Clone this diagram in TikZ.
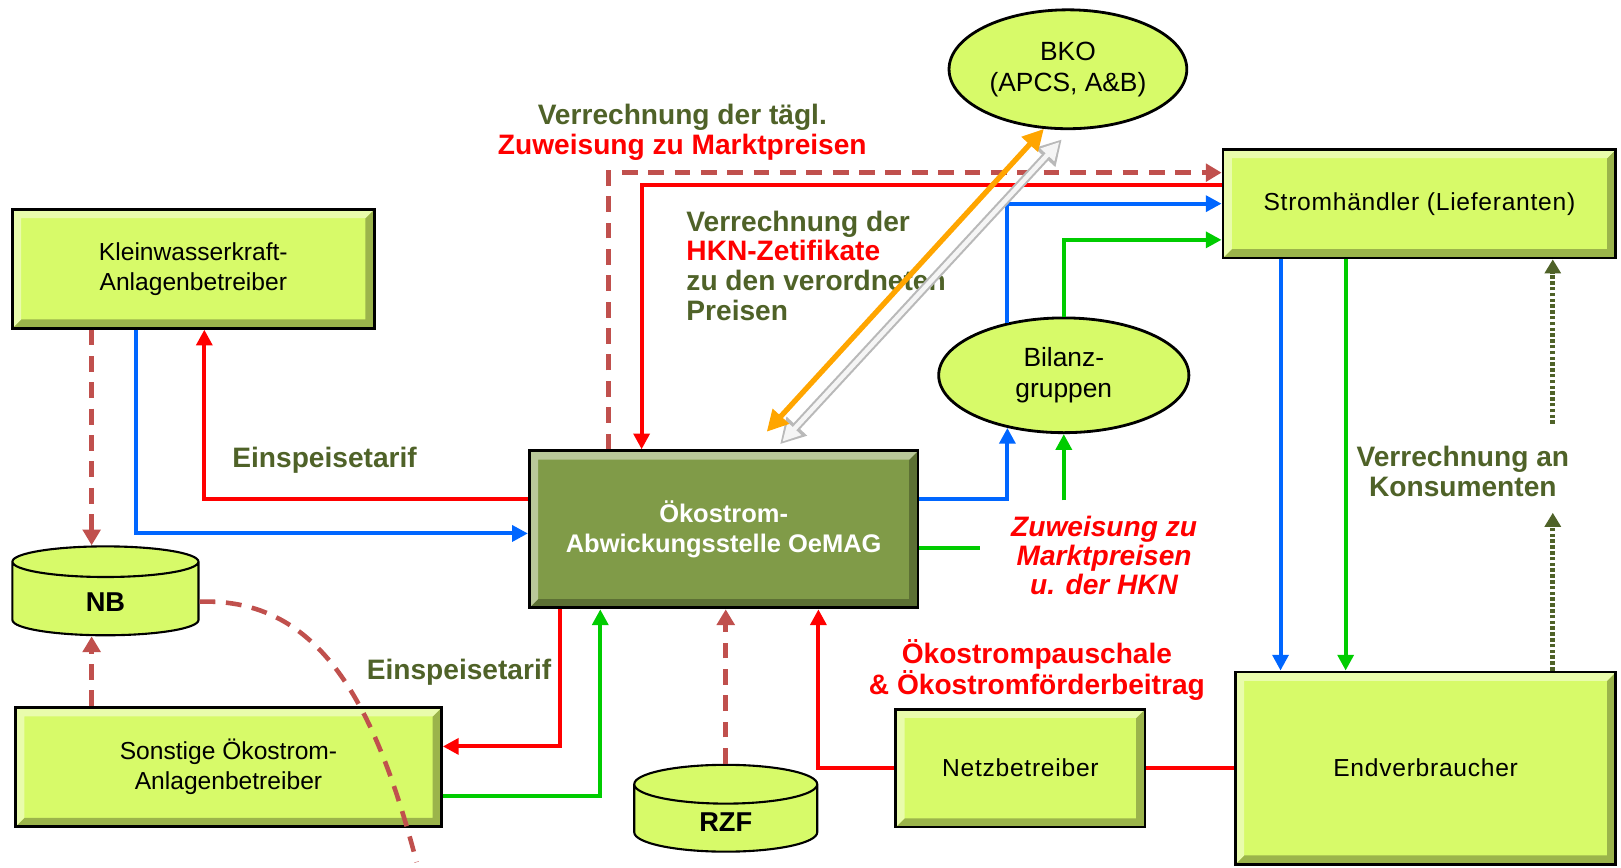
\documentclass[tikz,border=0pt]{standalone}
\usepackage{fontspec}
\setmainfont{Liberation Sans}
\definecolor{boxgreen}{RGB}{215,250,105}
\definecolor{oegreen}{RGB}{128,155,72}
\definecolor{lblgreen}{RGB}{79,98,40}
\definecolor{flowred}{RGB}{255,0,0}
\definecolor{flowblue}{RGB}{0,102,255}
\definecolor{flowgreen}{RGB}{0,204,0}
\definecolor{dashbrown}{RGB}{192,80,77}
\definecolor{floworange}{RGB}{255,165,0}
\usetikzlibrary{arrows.meta,positioning,shapes.geometric,calc}
\newcommand{\pxu}{0.020676cm}

\begin{document}
\begin{tikzpicture}[x=\pxu, y=-\pxu,
    bevel/.style={path picture={
      \fill[#1!72!black] (path picture bounding box.south west) -- (path picture bounding box.south east)
        -- (path picture bounding box.north east) -- ([shift={(-5pt,-5pt)}]path picture bounding box.north east)
        -- ([shift={(-5pt,5pt)}]path picture bounding box.south east) -- ([shift={(5pt,5pt)}]path picture bounding box.south west) -- cycle;
      \fill[#1!55!white] (path picture bounding box.south west) -- (path picture bounding box.north west)
        -- (path picture bounding box.north east) -- ([shift={(-5pt,-5pt)}]path picture bounding box.north east)
        -- ([shift={(5pt,-5pt)}]path picture bounding box.north west) -- ([shift={(5pt,5pt)}]path picture bounding box.south west) -- cycle;}},
    box/.style={rectangle, draw=black, line width=1.6pt, fill=boxgreen, bevel=boxgreen, align=center,
                font=\fontsize{14}{17}\selectfont},
    widebox/.style={box, font=\fontsize{14}{17}\selectfont\addfontfeature{LetterSpace=3}},
    oebox/.style={box, fill=oegreen, bevel=oegreen, text=white, font=\fontsize{14.5}{17.5}\selectfont\bfseries},
    oval/.style={ellipse, draw=black, line width=1.6pt, fill=boxgreen, align=center, inner sep=0pt,
                 font=\fontsize{15}{17.5}\selectfont},
    drum/.style={cylinder, shape border rotate=90, aspect=0.6, draw=black, line width=1.2pt, fill=boxgreen,
                 font=\fontsize{15.5}{18}\selectfont\bfseries},
    lbl/.style={font=\fontsize{16}{16.8}\selectfont\bfseries, text=lblgreen, align=center},
    redlbl/.style={lbl, text=flowred},
    flow/.style={line width=2.3pt, -{Triangle[length=9pt,width=9pt]}},
    redarr/.style={flow, flowred},
    bluearr/.style={flow, flowblue},
    greenarr/.style={flow, flowgreen},
    dashflow/.style={dashbrown, line width=2.6pt, dash pattern=on 9pt off 6pt, -{Triangle[length=9pt,width=10pt]}},
    dotflow/.style={lblgreen, line width=3pt, dash pattern=on 2pt off 1.3pt, -{Triangle[length=8pt,width=9pt]}}
  ]
  \useasboundingbox (0,0) rectangle (1568,839);

  % Teilnehmer
  \node[box, minimum width=350*\pxu, minimum height=115*\pxu] (klein) at (187,260)
    {Kleinwasserkraft-\\Anlagenbetreiber};
  \node[drum, minimum width=180*\pxu, minimum height=86*\pxu] (nb) at (102,582) {NB};
  \node[box, minimum width=412*\pxu, minimum height=115*\pxu] (sonst) at (221,742)
    {Sonstige Ökostrom-\\Anlagenbetreiber};
  \node[drum, minimum width=177*\pxu, minimum height=84*\pxu] (rzf) at (702,795) {RZF};
  \node[oebox, minimum width=376*\pxu, minimum height=152*\pxu] (oemag) at (700,512)
    {Ökostrom-\\Abwickungsstelle OeMAG};
  \node[widebox, minimum width=241*\pxu, minimum height=114*\pxu] (netz) at (987,743) {Netzbetreiber};
  \node[widebox, minimum width=368*\pxu, minimum height=186*\pxu] (endv) at (1379,743) {Endverbraucher};
  \node[widebox, minimum width=380*\pxu, minimum height=105*\pxu] (strom) at (1373,197)
    {Stromhändler (Lieferanten)};
  \node[oval, minimum width=230*\pxu, minimum height=115*\pxu] (bko) at (1033,67) {BKO\\(APCS, A\&B)};
  \node[oval, minimum width=242*\pxu, minimum height=111*\pxu] (bilanz) at (1029,363) {Bilanz-\\gruppen};

  % Beschriftungen
  \node[lbl] (taegl) at (660,128) {Verrechnung der tägl.\\\textcolor{flowred}{Zuweisung zu Marktpreisen}};
  \node[lbl, align=left, anchor=west] (hkn) at (658,257)
    {Verrechnung der\\\textcolor{flowred}{HKN-Zetifikate}\\zu den verordneten\\Preisen};
  \node[lbl] (tarifa) at (314,445) {Einspeisetarif};
  \node[lbl] (tarifb) at (444,650) {Einspeisetarif};
  \node[redlbl, font=\fontsize{16}{16.5}\selectfont\bfseries\itshape] (zuw) at (1068,537)
    {Zuweisung zu\\Marktpreisen\\u. der HKN};
  \node[redlbl] (pausch) at (1003,648) {Ökostrompauschale\\\& Ökostromförderbeitrag};
  \node[lbl] (konsum) at (1415,456) {Verrechnung an\\Konsumenten};

  % freie Enden
  \coordinate (gfree) at (948,530);
  \coordinate (gstart) at (1029,484);
  \coordinate (dlow) at (1502,496);
  \coordinate (dhigh) at (1502,410);
  \coordinate (arcend) at (403,834);
  \coordinate (sb) at ([xshift=57*\pxu]strom.south west);
  \coordinate (sg) at ([xshift=120*\pxu]strom.south west);
  \coordinate (nbx) at ([xshift=78*\pxu]klein.south west);

  % oben
  \draw[dashflow] ([xshift=78*\pxu]oemag.north west) |- ([yshift=30*\pxu]strom.west);
  \draw[redarr] ([yshift=18*\pxu]strom.west) -| ([xshift=110*\pxu]oemag.north west);
  \draw[bluearr] (bilanz.137) |- (strom.west);
  \draw[greenarr] (bilanz.north) |- ([yshift=-35*\pxu]strom.west);
  \draw[gray!55, line width=5pt, {Triangle[length=14pt,width=15pt]}-{Triangle[length=14pt,width=15pt]}]
    ([xshift=-6*\pxu,yshift=-9*\pxu]bko.south) -- ([xshift=244*\pxu,yshift=5*\pxu]oemag.north west);
  \draw[white!96!black, line width=2.6pt, shorten <=2pt, shorten >=2pt,
        {Triangle[length=10pt,width=10pt]}-{Triangle[length=10pt,width=10pt]}]
    ([xshift=-6*\pxu,yshift=-9*\pxu]bko.south) -- ([xshift=244*\pxu,yshift=5*\pxu]oemag.north west);
  \draw[floworange, line width=3pt, {Triangle[length=12pt,width=12pt]}-{Triangle[length=12pt,width=12pt]}]
    (bko.248) -- ([xshift=231*\pxu,yshift=17*\pxu]oemag.north west);

  % links
  \draw[redarr] ([yshift=29*\pxu]oemag.west) -| ([xshift=187*\pxu]klein.south west);
  \draw[bluearr] ([xshift=121*\pxu]klein.south west) |- ([yshift=-4*\pxu]oemag.west);
  \draw[dashflow] (nbx) -- (nbx |- nb.north);
  \draw[dashflow] (sonst.north -| nbx) -- (nb.south -| nbx);
  \draw[dashbrown, line width=2.6pt, dash pattern=on 9pt off 6pt]
    (nb.east) .. controls (310,578) and (363,682) .. (arcend);

  % unten
  \draw[redarr] ([xshift=31*\pxu]oemag.south west) |- ([yshift=20*\pxu]sonst.east);
  \draw[greenarr] ([yshift=-28*\pxu]sonst.east) -| ([xshift=70*\pxu]oemag.south west);
  \draw[dashflow] (rzf.north) -- (rzf.north |- oemag.south);
  \draw[redarr] (netz.west) -| ([xshift=281*\pxu]oemag.south west);
  \draw[flowred, line width=2.3pt] (endv.west) -- (netz.east);

  % rechts
  \draw[bluearr] ([yshift=29*\pxu]oemag.east) -| (bilanz.223);
  \draw[flowgreen, line width=2.3pt] ([yshift=-18*\pxu]oemag.east) -- (gfree);
  \draw[greenarr] (gstart) -- (bilanz.south);
  \draw[bluearr] (sb) -- (sb |- endv.north);
  \draw[greenarr] (sg) -- (sg |- endv.north);
  \draw[dotflow] (endv.north -| dlow) -- (dlow);
  \draw[dotflow] (dhigh) -- (strom.south -| dhigh);
\end{tikzpicture}
\end{document}
